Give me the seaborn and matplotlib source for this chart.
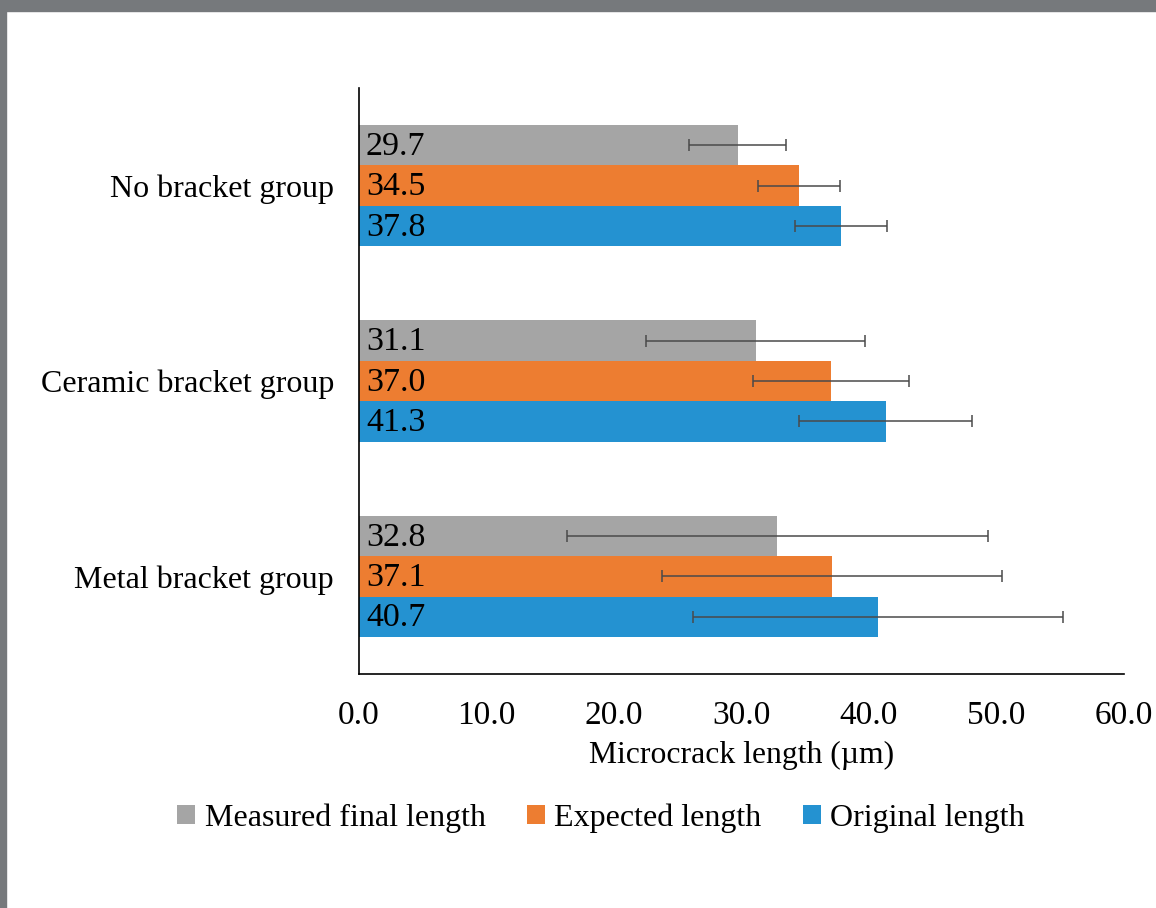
import numpy as np
import pandas as pd
import seaborn as sns
import matplotlib.pyplot as plt
from matplotlib.patches import Rectangle

groups = ["No bracket group", "Ceramic bracket group", "Metal bracket group"]
series = ["Measured final length", "Expected length", "Original length"]
measured = [29.7, 31.1, 32.8]
expected = [34.5, 37.0, 37.1]
original = [37.8, 41.3, 40.7]
measured_err = [3.8, 8.6, 16.5]
expected_err = [3.2, 6.1, 13.3]
original_err = [3.6, 6.8, 14.5]
colors = ["#A5A5A5", "#ED7D31", "#2492D1"]
xticks = [0, 10, 20, 30, 40, 50, 60]

values = [measured, expected, original]
errs = [measured_err, expected_err, original_err]
rows = []
for s, vals in zip(series, values):
    for g, v in zip(groups, vals):
        rows.append({"group": g, "series": s, "value": v})
df = pd.DataFrame(rows)

sns.set_style("white")
plt.rcParams['font.family'] = ['Liberation Serif', 'DejaVu Serif']
plt.rcParams['text.color'] = 'black'

fig = plt.figure(figsize=(11.56, 9.08), dpi=100)
ax = fig.add_axes([0.3106, 0.2577, 0.6617, 0.6454])

sns.barplot(data=df, y="group", x="value", hue="series", order=groups,
            hue_order=series, palette=colors, orient="h", width=0.62,
            errorbar=None, ax=ax, saturation=1, legend=True, linewidth=0)

for cont, vals, es in zip(ax.containers, values, errs):
    ys = [p.get_y() + p.get_height() / 2 for p in cont.patches]
    ax.errorbar(vals, ys, xerr=es, fmt="none", ecolor="#4a4a4a",
                elinewidth=1.1, capsize=4, capthick=1.1, zorder=5)
    for p, v in zip(cont.patches, vals):
        ax.annotate(f"{v:.1f}", xy=(0, p.get_y() + p.get_height() / 2),
                    xytext=(5, -1), textcoords="offset points",
                    va="center", ha="left", fontsize=24.5, color="black")

ax.set_xlim(0, 60)
ax.set_ylim(2.5, -0.5)
ax.set_xticks(xticks)
ax.set_xticklabels([f"{t:.1f}" for t in xticks], fontsize=24)
ax.tick_params(axis="x", direction="out", length=8, width=1.2, color="black",
               pad=11, labelcolor="black")
ax.tick_params(axis="y", length=0, labelsize=23, pad=18, labelcolor="black")
ax.set_xlabel("Microcrack length (µm)", fontsize=22.8, labelpad=7, color="black")
ax.set_ylabel("")
for s in ["top", "right"]:
    ax.spines[s].set_visible(False)
for s in ["left", "bottom"]:
    ax.spines[s].set_color("black")
    ax.spines[s].set_linewidth(1.2)

handles, labels = ax.get_legend_handles_labels()
ax.legend_.remove()
fig.legend(handles, labels, loc="center", bbox_to_anchor=(0.52, 0.099),
           ncol=3, frameon=False, fontsize=23, handlelength=0.55,
           handleheight=0.55, handletextpad=0.3, columnspacing=1.3,
           labelcolor="black")

# screenshot frame
fig.patches.append(Rectangle((0, 1 - 11 / 908), 1, 11 / 908, transform=fig.transFigure,
                             color="#76797c", zorder=10))
fig.patches.append(Rectangle((0, 0), 6 / 1156, 1, transform=fig.transFigure,
                             color="#76797c", zorder=10))

fig.savefig("out.png", dpi=100)
